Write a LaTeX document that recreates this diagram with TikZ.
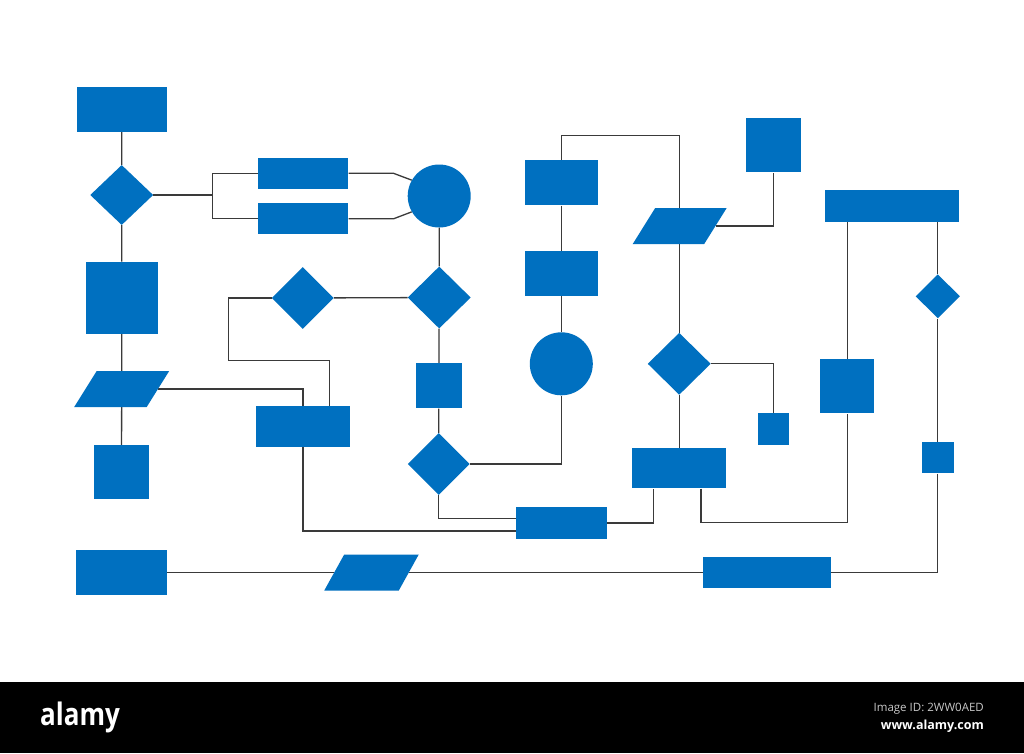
\documentclass[tikz,border=0pt]{standalone}
\usepackage{fontspec}
\setmainfont{Open Sans}
\usetikzlibrary{shapes.geometric, backgrounds, positioning}
\definecolor{fblue}{HTML}{0070C0}
\definecolor{fline}{HTML}{3A3A3A}
\definecolor{fgrey}{HTML}{C8C8C8}

\begin{document}
\begin{tikzpicture}[x=1pt, y=-1pt,
        box/.style n args={2}{rectangle, fill=fblue, inner sep=0pt, minimum width=#1pt, minimum height=#2pt},
        decision/.style n args={2}{diamond, fill=fblue, inner sep=0pt, minimum width=#1pt, minimum height=#2pt},
        io/.style={trapezium, trapezium left angle=58, trapezium right angle=122,
            fill=fblue, inner xsep=25pt, inner ysep=18pt, minimum width=0pt, minimum height=0pt},
        term/.style={circle, fill=fblue, inner sep=0pt, minimum size=63pt},
        link/.style={draw=fline, line width=1.3pt}]
        \useasboundingbox (0,0) rectangle (1024,753);
        % left column
        \node[box={90}{45}] (b_start) at (121.7,109) {};
        \node[decision={63}{60}] (d_1) at (121.7,195) {};
        \node[box={72}{72}] (b_left) at (121.7,297.8) {};
        \node[io] (io_1) at (121.7,389) {};
        \node[box={54.4}{54}] (b_sq2) at (121.5,472) {};
        \node[box={90.7}{45.7}] (b_end) at (121.3,572.5) {};
        % second and third columns
        \node[box={90.6}{31.3}] (b_up) at (303,173.3) {};
        \node[box={90.6}{31}] (b_low) at (303,218.8) {};
        \node[term] (c_1) at (439.2,196) {};
        \node[decision={62}{62}] (d_2) at (302.8,298) {};
        \node[decision={63}{62}] (d_r) at (439.2,297.5) {};
        \node[box={94}{40.7}] (b_mid) at (303,426.3) {};
        \node[box={45.7}{45}] (b_s3) at (438.8,385.8) {};
        \node[decision={62}{62}] (d_4) at (438.8,464) {};
        \node[io, trapezium left angle=61, trapezium right angle=119, inner xsep=27.3pt] (io_2) at (371.5,572.5) {};
        % middle columns
        \node[box={72.7}{45.3}] (b_col1) at (561.3,182.7) {};
        \node[box={72.7}{45}] (b_col2) at (561.3,273.2) {};
        \node[term] (c_2) at (561.3,363.8) {};
        \node[box={90.7}{31.3}] (b_join) at (561.3,523) {};
        \node[io, inner xsep=24.5pt] (io_3) at (679.7,226) {};
        \node[decision={63}{62}] (d_5) at (679.2,363.8) {};
        \node[box={93.7}{40}] (b_wide) at (679.2,468.3) {};
        \node[box={54.7}{54}] (b_topsq) at (773.3,145.3) {};
        \node[box={31.6}{31.7}] (b_tiny1) at (773.5,429) {};
        \node[box={127.4}{31.6}] (b_long) at (767,572.5) {};
        % right columns
        \node[box={134.3}{32}] (b_bar) at (892.2,206) {};
        \node[box={54}{54}] (b_sqE) at (847.3,386.3) {};
        \node[decision={44.3}{44}] (d_6) at (937.8,296.3) {};
        \node[box={31.6}{31}] (b_tiny2) at (937.8,457.8) {};

        \begin{scope}[on background layer]
            \fill[white] (0,0) rectangle (1024,682);
            \draw[link] (b_start) -- (d_1) -- (b_left) -- (io_1) -- (b_sq2);
            \draw[link] (d_1.east) -- ++(59,0) coordinate (fork);
            \draw[link] (b_up.west) -| (fork) |- (b_low.west);
            \draw[link] (b_up.east) -- ++(45,0) -- (c_1.150);
            \draw[link] (b_low.east) -- ++(45,0) -- (c_1.210);
            \draw[link] (c_1) -- (d_r) -- (b_s3) -- (d_4);
            \draw[link] (d_2) -- (d_r);
            \draw[link] (d_2.west) -| ++(-43.4,62.7) -| ([xshift=26.3pt]b_mid.north);
            \draw[link] (io_1.east) -| (b_mid.north);
            \draw[link] (b_mid.south) |- ([yshift=-8pt]b_join.west);
            \draw[link] (d_4.south) |- ([yshift=4.7pt]b_join.west);
            \draw[link] (d_4.east) -| (c_2.south);
            \draw[link] (b_col1) -- (b_col2) -- (c_2);
            \draw[link] (b_col1.north) -- ++(0,-24.3) -| (d_5.north);
            \draw[link] (io_3.east) -| (b_topsq.south);
            \draw[link] (d_5.east) -| (b_tiny1.north);
            \draw[link] (d_5) -- (b_wide);
            \draw[link] (b_join.east) -| ([xshift=-25.9pt]b_wide.south);
            \draw[link] ([xshift=21.8pt]b_wide.south) -- ++(0,34) -| (b_sqE.south);
            \draw[link] (b_sqE.north) -- (b_sqE.north |- b_bar.south);
            \draw[link] (d_6.north |- b_bar.south) -- (d_6.north);
            \draw[link] (d_6) -- (b_tiny2);
            \draw[link] (b_tiny2.south) |- (b_long.east);
            \draw[link] (b_end.east) -- (io_2.west);
            \draw[link] (io_2.east) -- (b_long.west);
        \end{scope}

        % footer
        \fill[black] (0,682) rectangle (1024,753);
        \node[anchor=base west, inner sep=0pt, text=white, xscale=0.84,
            font=\bfseries\fontsize{31}{31}\selectfont] (brand) at (40,725) {alamy};
        \node[anchor=base east, inner sep=0pt, text=fgrey,
            font=\fontsize{11.5}{11.5}\selectfont] (imgid) at (984,711.7) {Image ID: 2WW0AED};
        \node[anchor=base east, inner sep=0pt, text=white,
            font=\bfseries\fontsize{12.5}{12.5}\selectfont] (site) at (984,729.3) {www.alamy.com};
    \end{tikzpicture}
\end{document}
